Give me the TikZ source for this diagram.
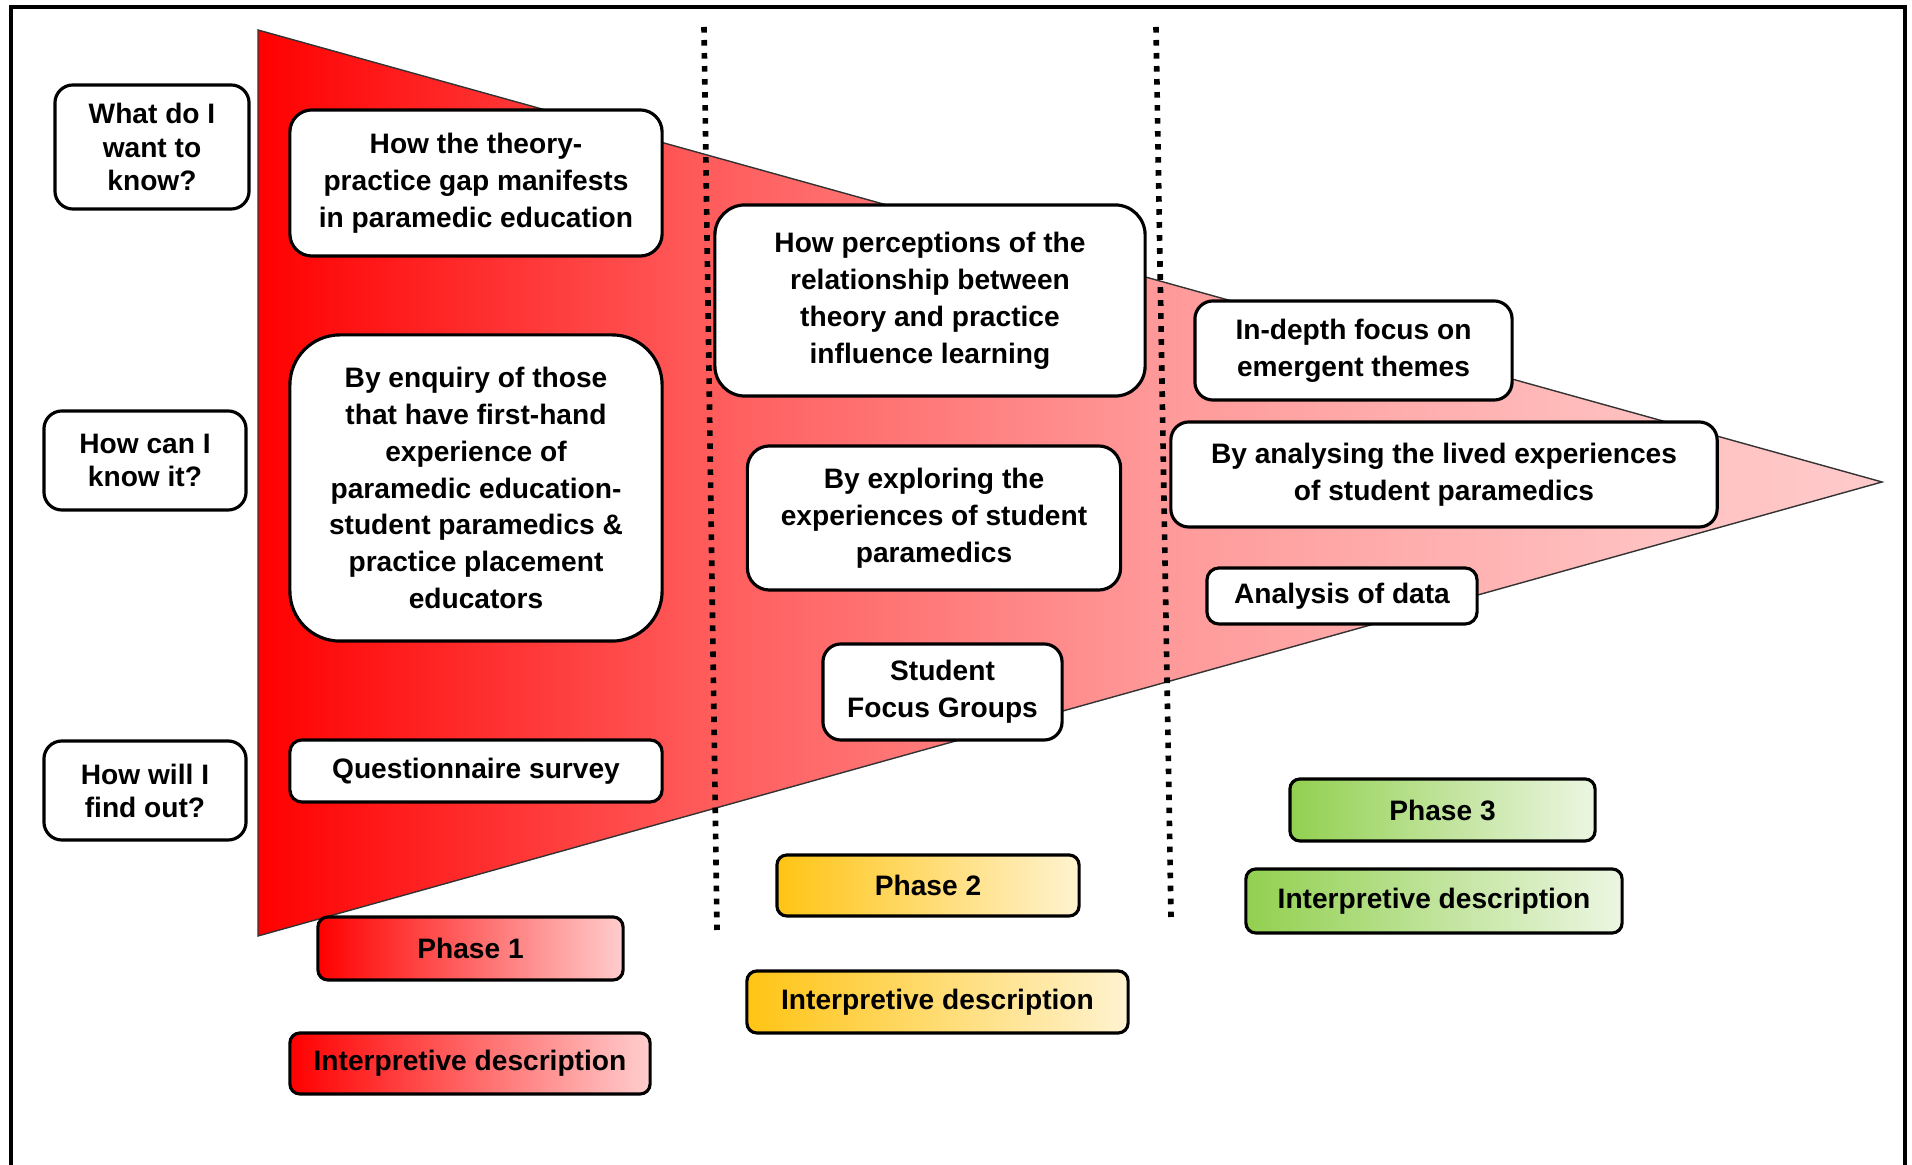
\documentclass[tikz,border=0pt]{standalone}
\usepackage{fontspec}
\setmainfont{Liberation Sans}
\definecolor{fa}{RGB}{255,90,90}
\definecolor{fb}{RGB}{255,152,152}
\definecolor{fc}{RGB}{255,192,192}
\definecolor{fd}{RGB}{255,202,202}
\definecolor{redlight}{RGB}{255,205,205}
\definecolor{redmid}{RGB}{255,140,140}
\definecolor{yeldark}{RGB}{255,196,20}
\definecolor{yelmid}{RGB}{255,226,130}
\definecolor{yellight}{RGB}{255,243,208}
\definecolor{grndark}{RGB}{146,208,80}
\definecolor{grnmid}{RGB}{205,232,175}
\definecolor{grnlight}{RGB}{236,246,226}
\pgfdeclarehorizontalshading{funnelshade}{100bp}{color(0bp)=(red); color(25bp)=(red); color(38.5bp)=(fa); color(52.5bp)=(fb); color(67.5bp)=(fc); color(75bp)=(fd); color(100bp)=(fd)}
\begin{document}
\begin{tikzpicture}[x=0.01cm,y=-0.01cm,
  every node/.style={font=\bfseries\fontsize{8}{10.5}\selectfont, align=center, inner sep=0pt},
  wbox/.style={draw=black, line width=0.9pt, fill=white, rounded corners=0.18cm},
  qbox/.style={wbox, font=\bfseries\fontsize{8}{9.4}\selectfont},
  phbox/.style={draw=black, line width=0.9pt, rounded corners=0.1cm},
  redgrad/.style={phbox, left color=red, middle color=redmid, right color=redlight},
  yelgrad/.style={phbox, left color=yeldark, middle color=yelmid, right color=yellight},
  grngrad/.style={phbox, left color=grndark, middle color=grnmid, right color=grnlight},
  dotline/.style={line width=1.6pt, dash pattern=on 1.6pt off 2.1pt}
]
\clip (0,0) rectangle (1912,1165);
\fill[white] (0,0) rectangle (1912,1165);
% outer frame
\draw[line width=1pt] (11,7) rectangle (1905,1200);
% funnel
\coordinate (ttop) at (258,30);
\coordinate (tbot) at (258,936);
\coordinate (ttip) at (1882,482);
\shade[shading=funnelshade, draw=black!80, line width=0.4pt]
  (ttop) -- (ttip) -- (tbot) -- cycle;
% phase separators
\coordinate (d1a) at (704,27);
\coordinate (d1b) at (717,930);
\coordinate (d2a) at (1156,27);
\coordinate (d2b) at (1171,917);
\draw[dotline] (d1a) -- (d1b);
\draw[dotline] (d2a) -- (d2b);
% question boxes
\node[qbox, minimum width=1.94cm, minimum height=1.24cm] (q1) at (152,147) {What do I\\want to\\know?};
\node[qbox, minimum width=2.02cm, minimum height=0.99cm] (q2) at (145,460.5) {How can I\\know it?};
\node[qbox, minimum width=2.02cm, minimum height=0.99cm] (q3) at (145,790.5) {How will I\\find out?};
% phase 1
\node[wbox, minimum width=3.72cm, minimum height=1.46cm, rounded corners=0.22cm] (a1) at (476,183) {How the theory-\\practice gap manifests\\in paramedic education};
\node[wbox, minimum width=3.72cm, minimum height=3.06cm, rounded corners=0.5cm] (a2) at (476,488) {By enquiry of those\\that have first-hand\\experience of\\paramedic education-\\student paramedics \&\\practice placement\\educators};
\node[wbox, minimum width=3.72cm, minimum height=0.62cm, rounded corners=0.12cm] (a3) at (476,771) {Questionnaire survey};
\node[redgrad, minimum width=3.05cm, minimum height=0.63cm] (ph1) at (470.5,948.5) {Phase 1};
\node[redgrad, minimum width=3.60cm, minimum height=0.61cm] (id1) at (470,1063.5) {Interpretive description};
% phase 2
\node[wbox, minimum width=4.30cm, minimum height=1.91cm, rounded corners=0.3cm] (b1) at (930,300.5) {How perceptions of the\\relationship between\\theory and practice\\influence learning};
\node[wbox, minimum width=3.73cm, minimum height=1.44cm, rounded corners=0.22cm] (b2) at (934,518) {By exploring the\\experiences of student\\paramedics};
\node[wbox, minimum width=2.39cm, minimum height=0.96cm] (b3) at (942.5,692) {Student\\Focus Groups};
\node[yelgrad, minimum width=3.02cm, minimum height=0.61cm] (ph2) at (928,885.5) {Phase 2};
\node[yelgrad, minimum width=3.81cm, minimum height=0.62cm] (id2) at (937.5,1002) {Interpretive description};
% phase 3
\node[wbox, minimum width=3.17cm, minimum height=0.99cm] (c1) at (1353.5,350.5) {In-depth focus on\\emergent themes};
\node[wbox, minimum width=5.46cm, minimum height=1.05cm] (c2) at (1444,474.5) {By analysing the lived experiences\\of student paramedics};
\node[wbox, minimum width=2.70cm, minimum height=0.56cm, rounded corners=0.12cm] (c3) at (1342,596) {Analysis of data};
\node[grngrad, minimum width=3.05cm, minimum height=0.62cm] (ph3) at (1442.5,810) {Phase 3};
\node[grngrad, minimum width=3.76cm, minimum height=0.64cm] (id3) at (1434,901) {Interpretive description};
\end{tikzpicture}
\end{document}
